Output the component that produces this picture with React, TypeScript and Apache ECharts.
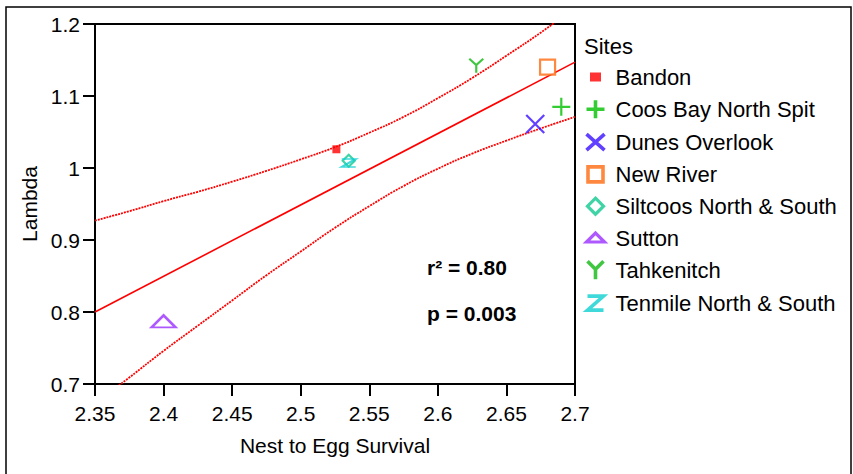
import React, { useEffect, useRef } from "react";
import * as echarts from "echarts";

const sites = [
  "Bandon",
  "Coos Bay North Spit",
  "Dunes Overlook",
  "New River",
  "Siltcoos North & South",
  "Sutton",
  "Tahkenitch",
  "Tenmile North & South",
];
const nestToEgg = [2.526, 2.69, 2.671, 2.68, 2.535, 2.4, 2.628, 2.535];
const lambda = [1.026, 1.085, 1.061, 1.14, 1.01, 0.787, 1.142, 1.007];

const fitX = [2.35, 2.7];
const fitY = [0.8, 1.147];

const bandX = [2.35, 2.375, 2.4, 2.425, 2.45, 2.475, 2.5, 2.525, 2.55, 2.575, 2.6, 2.625, 2.65, 2.675, 2.7];
const bandUpper = [0.927, 0.94, 0.954, 0.967, 0.981, 0.996, 1.012, 1.029, 1.049, 1.071, 1.097, 1.125, 1.156, 1.188, 1.223];
const bandLower = [0.673, 0.709, 0.746, 0.781, 0.816, 0.851, 0.884, 0.917, 0.947, 0.975, 0.999, 1.02, 1.038, 1.055, 1.071];

const xTicks = { min: 2.35, max: 2.7, interval: 0.05 };
const yTicks = { min: 0.7, max: 1.2, interval: 0.1 };

const FONT = "Liberation Sans, Arial, sans-serif";

const colors = ["#ff0000", "#00c000", "#3a10ff", "#ff6a10", "#10c890", "#9a30ff", "#10b810", "#10d0d0"];

const markerStyles: any[] = [
  { symbol: "rect", symbolSize: [8, 8], itemStyle: { color: colors[0] } },
  { symbol: "path://M5,0L5,10M0,5L10,5", symbolSize: 18, itemStyle: { color: "none", borderColor: colors[1], borderWidth: 2.2 } },
  { symbol: "path://M0,0L10,10M10,0L0,10", symbolSize: 18, itemStyle: { color: "none", borderColor: colors[2], borderWidth: 2.2 } },
  { symbol: "rect", symbolSize: 15, itemStyle: { color: "#ffffff", borderColor: colors[3], borderWidth: 2.2 } },
  { symbol: "diamond", symbolSize: [12, 12], itemStyle: { color: "#ffffff", borderColor: colors[4], borderWidth: 2.2 } },
  { symbol: "triangle", symbolSize: [24, 12], itemStyle: { color: "#ffffff", borderColor: colors[5], borderWidth: 2.4 } },
  { symbol: "path://M0,0L5,5L10,0M5,5L5,11", symbolSize: [14, 14], itemStyle: { color: "none", borderColor: colors[6], borderWidth: 2.2 } },
  { symbol: "path://M0,0L10,0L0,8L10,8", symbolSize: [14, 8], itemStyle: { color: "none", borderColor: colors[7], borderWidth: 2.2 } },
];

// legend icons drawn in a 20x18 box (leading moves fix the box)
const legendIcons: any[] = [
  { icon: "path://M0,0M20,18M4.5,4.5H15.5V13.5H4.5Z", itemStyle: { color: colors[0], borderWidth: 0 } },
  { icon: "path://M0,0M20,18M10,0V18M1,9H19", itemStyle: { color: "none", borderColor: colors[1], borderWidth: 3.6 } },
  { icon: "path://M0,0M20,18M1,1L19,17M19,1L1,17", itemStyle: { color: "none", borderColor: colors[2], borderWidth: 3.6 } },
  { icon: "path://M0,0M20,18M2.5,1.5H17.5V16.5H2.5Z", itemStyle: { color: "#ffffff", borderColor: colors[3], borderWidth: 3.6 } },
  { icon: "path://M0,0M20,18M10,1L18,9L10,17L2,9Z", itemStyle: { color: "#ffffff", borderColor: colors[4], borderWidth: 3.2 } },
  { icon: "path://M0,0M20,18M1,13L10,4L19,13Z", itemStyle: { color: "#ffffff", borderColor: colors[5], borderWidth: 3.2 } },
  { icon: "path://M0,0M20,18M2,0L10,8L18,0M10,8V18", itemStyle: { color: "none", borderColor: colors[6], borderWidth: 3.6 } },
  { icon: "path://M0,0M20,18M2,2H18L2,16H18", itemStyle: { color: "none", borderColor: colors[7], borderWidth: 3.6 } },
];

const fmt = (v: number) => String(+v.toFixed(2));

export default function App() {
  const ref = useRef<HTMLDivElement>(null);
  useEffect(() => {
    document.body.style.margin = "0";
    const chart = echarts.init(ref.current!, null, { renderer: "svg" });
    const scatterSeries = sites.map((name, i) => ({
      type: "scatter",
      name,
      z: 5,
      data: [[nestToEgg[i], lambda[i]]],
      ...markerStyles[i],
    }));
    const option: any = {
      animation: false,
      textStyle: { fontFamily: FONT },
      grid: {
        left: 95,
        right: 278,
        top: 24,
        bottom: 90,
        show: true,
        borderColor: "#000",
        borderWidth: 2,
      },
      xAxis: {
        type: "value",
        min: xTicks.min,
        max: xTicks.max,
        interval: xTicks.interval,
        name: "Nest to Egg Survival",
        nameLocation: "middle",
        nameGap: 51,
        nameTextStyle: { fontSize: 21, color: "#000", fontFamily: FONT },
        axisLine: { show: true, lineStyle: { color: "#000", width: 2 } },
        axisTick: { show: true, length: 12, lineStyle: { color: "#000", width: 2 } },
        axisLabel: { fontSize: 21, color: "#000", margin: 19, formatter: fmt, fontFamily: FONT },
        splitLine: { show: false },
      },
      yAxis: {
        type: "value",
        min: yTicks.min,
        max: yTicks.max,
        interval: yTicks.interval,
        name: "Lambda",
        nameLocation: "middle",
        nameGap: 50,
        nameTextStyle: { fontSize: 21, color: "#000", fontFamily: FONT },
        axisLine: { show: true, lineStyle: { color: "#000", width: 2 } },
        axisTick: { show: true, length: 12, lineStyle: { color: "#000", width: 2 } },
        axisLabel: { fontSize: 21, color: "#000", margin: 15, formatter: fmt, fontFamily: FONT },
        splitLine: { show: false },
      },
      legend: {
        data: sites.map((name, i) => ({ name, ...legendIcons[i] })),
        orient: "vertical",
        left: 578,
        top: 61,
        itemWidth: 20,
        itemHeight: 18,
        itemGap: 9.8,
        textStyle: { fontSize: 22, color: "#000", fontFamily: FONT, padding: [0, 0, 0, 5] },
        selectedMode: false,
      },
      graphic: [
        {
          type: "rect",
          shape: { x: 6, y: 7, width: 845, height: 480 },
          style: { fill: "none", stroke: "#000", lineWidth: 1.5 },
          silent: true,
        },
        {
          type: "text",
          x: 584,
          y: 46,
          style: { text: "Sites", fontSize: 22, fill: "#000", fontFamily: FONT, verticalAlign: "middle" },
        },
        {
          type: "text",
          x: 427,
          y: 267,
          style: { text: "r² = 0.80", fontSize: 21, fontWeight: "bold", fill: "#000", fontFamily: FONT, verticalAlign: "middle" },
        },
        {
          type: "text",
          x: 427,
          y: 313,
          style: { text: "p = 0.003", fontSize: 21, fontWeight: "bold", fill: "#000", fontFamily: FONT, verticalAlign: "middle" },
        },
      ],
      series: [
        {
          type: "line",
          name: "fit",
          data: fitX.map((x, i) => [x, fitY[i]]),
          showSymbol: false,
          silent: true,
          clip: true,
          lineStyle: { color: "#ff0000", width: 1.6, type: "solid" },
          z: 2,
        },
        {
          type: "line",
          name: "upper95",
          data: bandX.map((x, i) => [x, bandUpper[i]]),
          showSymbol: false,
          smooth: true,
          silent: true,
          clip: true,
          lineStyle: { color: "#ff0000", width: 1.8, type: [2, 1] },
          z: 2,
        },
        {
          type: "line",
          name: "lower95",
          data: bandX.map((x, i) => [x, bandLower[i]]),
          showSymbol: false,
          smooth: true,
          silent: true,
          clip: true,
          lineStyle: { color: "#ff0000", width: 1.8, type: [2, 1] },
          z: 2,
        },
        ...scatterSeries,
      ],
    };
    chart.setOption(option);
    return () => chart.dispose();
  }, []);
  return <div ref={ref} style={{ width: 853, height: 474 }} />;
}
